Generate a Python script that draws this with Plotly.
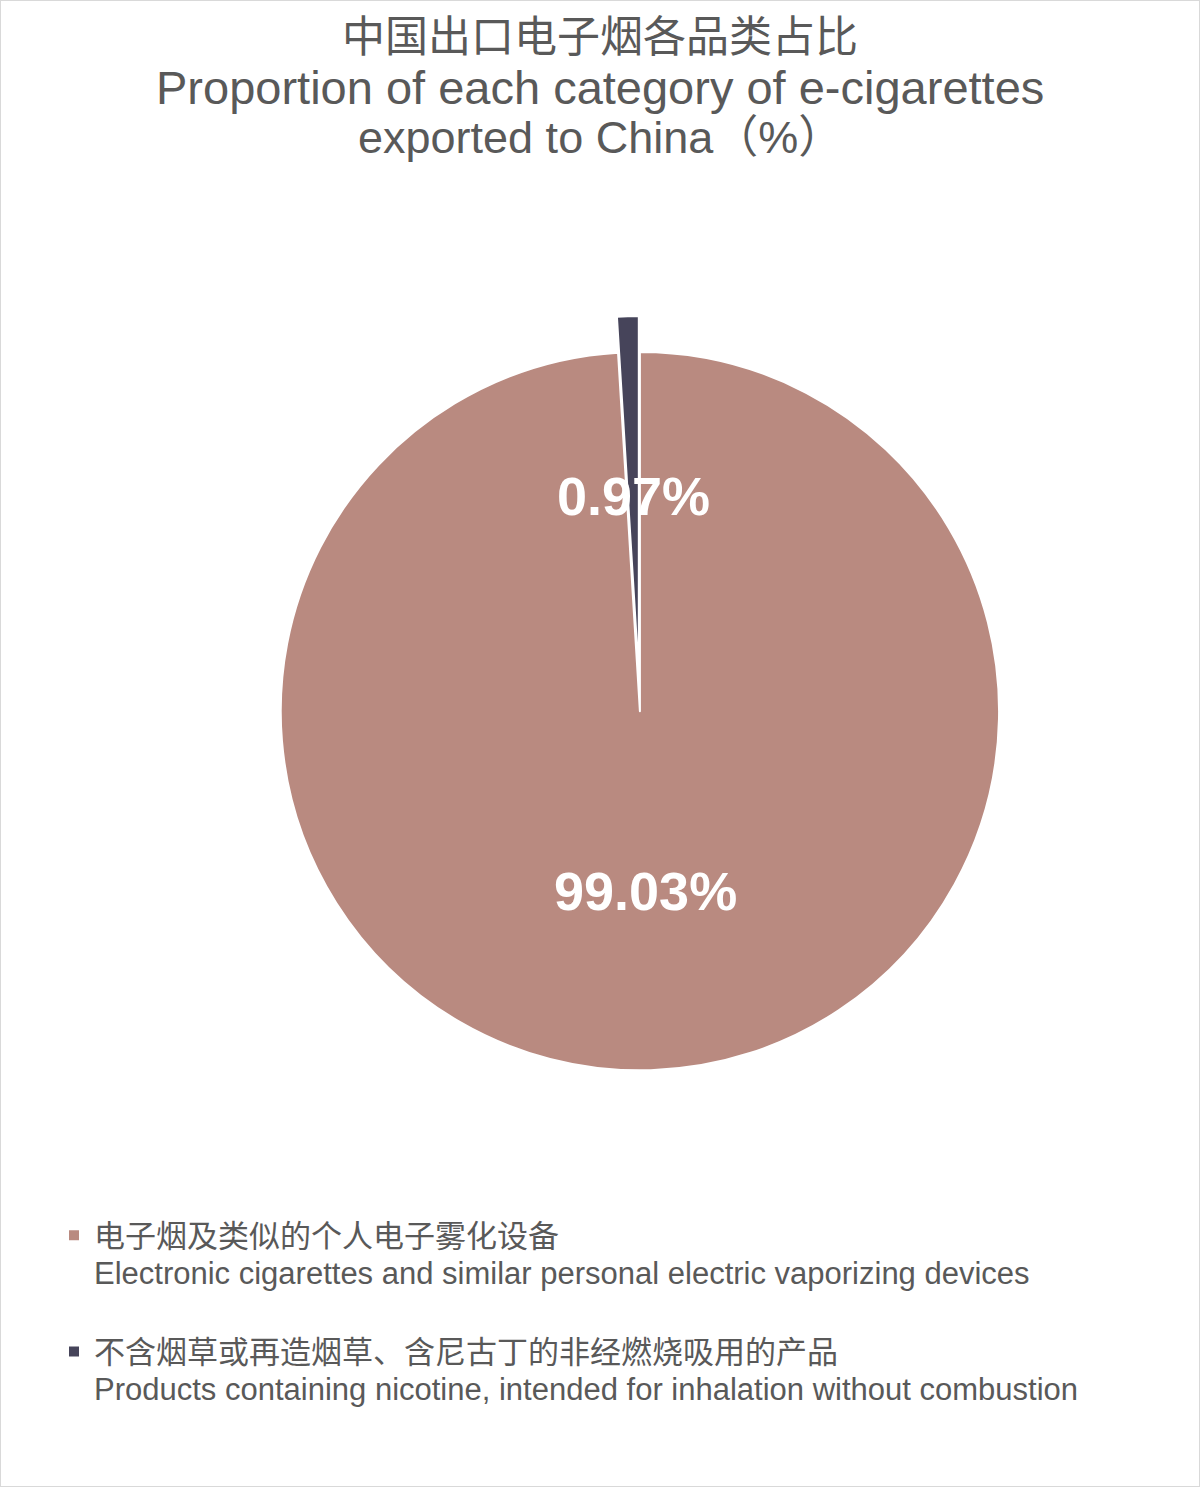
import math
import plotly.graph_objects as go

# data
labels_cn = ["电子烟及类似的个人电子雾化设备", "不含烟草或再造烟草、含尼古丁的非经燃烧吸用的产品"]
labels_en = ["Electronic cigarettes and similar personal electric vaporizing devices",
             "Products containing nicotine, intended for inhalation without combustion"]
shares = [99.03, 0.97]
colors = ["#B98A80", "#46445A"]
pulls = [0, 0.1]

title_lines = ["中国出口电子烟各品类占比",
               "Proportion of each category of e-cigarettes",
               "exported to China（%）"]

font_main = "Liberation Sans, Arial, Noto Sans CJK SC, sans-serif"
grey = "#595959"
W, H = 1200, 1487

legend_labels = ["<span style='font-size:31px'>" + cn + "</span><br>"
                 "<span style='font-size:31px'>" + en + "</span><br> "
                 for cn, en in zip(labels_cn, labels_en)]

# pie domain (paper)
dom_x = [0.204, 0.8625]
dom_y = [0.256, 0.7875]

fig = go.Figure()
fig.add_trace(go.Pie(
    labels=legend_labels,
    values=shares,
    sort=False,
    direction="clockwise",
    rotation=0,
    pull=pulls,
    marker=dict(colors=colors, line=dict(color="white", width=2)),
    textinfo="none",
    hoverinfo="percent",
    domain=dict(x=dom_x, y=dom_y),
))

# percentage labels placed along each slice's middle angle
cx = (dom_x[0] + dom_x[1]) / 2
cy = (dom_y[0] + dom_y[1]) / 2
r_px = min((dom_x[1] - dom_x[0]) * W, (dom_y[1] - dom_y[0]) * H) / 2 / (1 + max(pulls))
total = sum(shares)
start = 0.0
label_r = [0.5, 0.6]
for v, lr in zip(shares, label_r):
    mid = start + v / total * 360 / 2
    start += v / total * 360
    ang = math.radians(mid)
    dx = math.sin(ang) * r_px * lr
    dy = math.cos(ang) * r_px * lr
    fig.add_annotation(
        x=cx + dx / W, y=cy + dy / H, xref="paper", yref="paper",
        text=f"{v:.2f}%", showarrow=False,
        font=dict(family="Liberation Sans, Arial, sans-serif", size=54, color="white", weight="bold"),
    )

# title, one annotation per line to keep the tight line spacing
title_y = [37, 87, 137]
title_size = [43, 47, 45]
for txt, ty, ts in zip(title_lines, title_y, title_size):
    fig.add_annotation(
        x=0.5, y=1 - ty / H, xref="paper", yref="paper",
        xanchor="center", yanchor="middle", text=txt, showarrow=False,
        font=dict(family=font_main, size=ts, color=grey),
    )

fig.add_shape(type="rect", xref="paper", yref="paper", x0=0, y0=0, x1=1, y1=1,
              line=dict(color="#D9D9D9", width=2))

fig.update_layout(
    width=W, height=H,
    margin=dict(l=0, r=0, t=0, b=0),
    paper_bgcolor="white",
    plot_bgcolor="white",
    showlegend=True,
    legend=dict(
        x=0.045, y=1 - 1210 / H, xanchor="left", yanchor="top",
        valign="top",
        font=dict(family=font_main, size=29, color=grey),
        bgcolor="rgba(0,0,0,0)",
    ),
)

fig.write_html("out.html", config={"displayModeBar": False},
               post_script="document.body.style.margin='0';")
